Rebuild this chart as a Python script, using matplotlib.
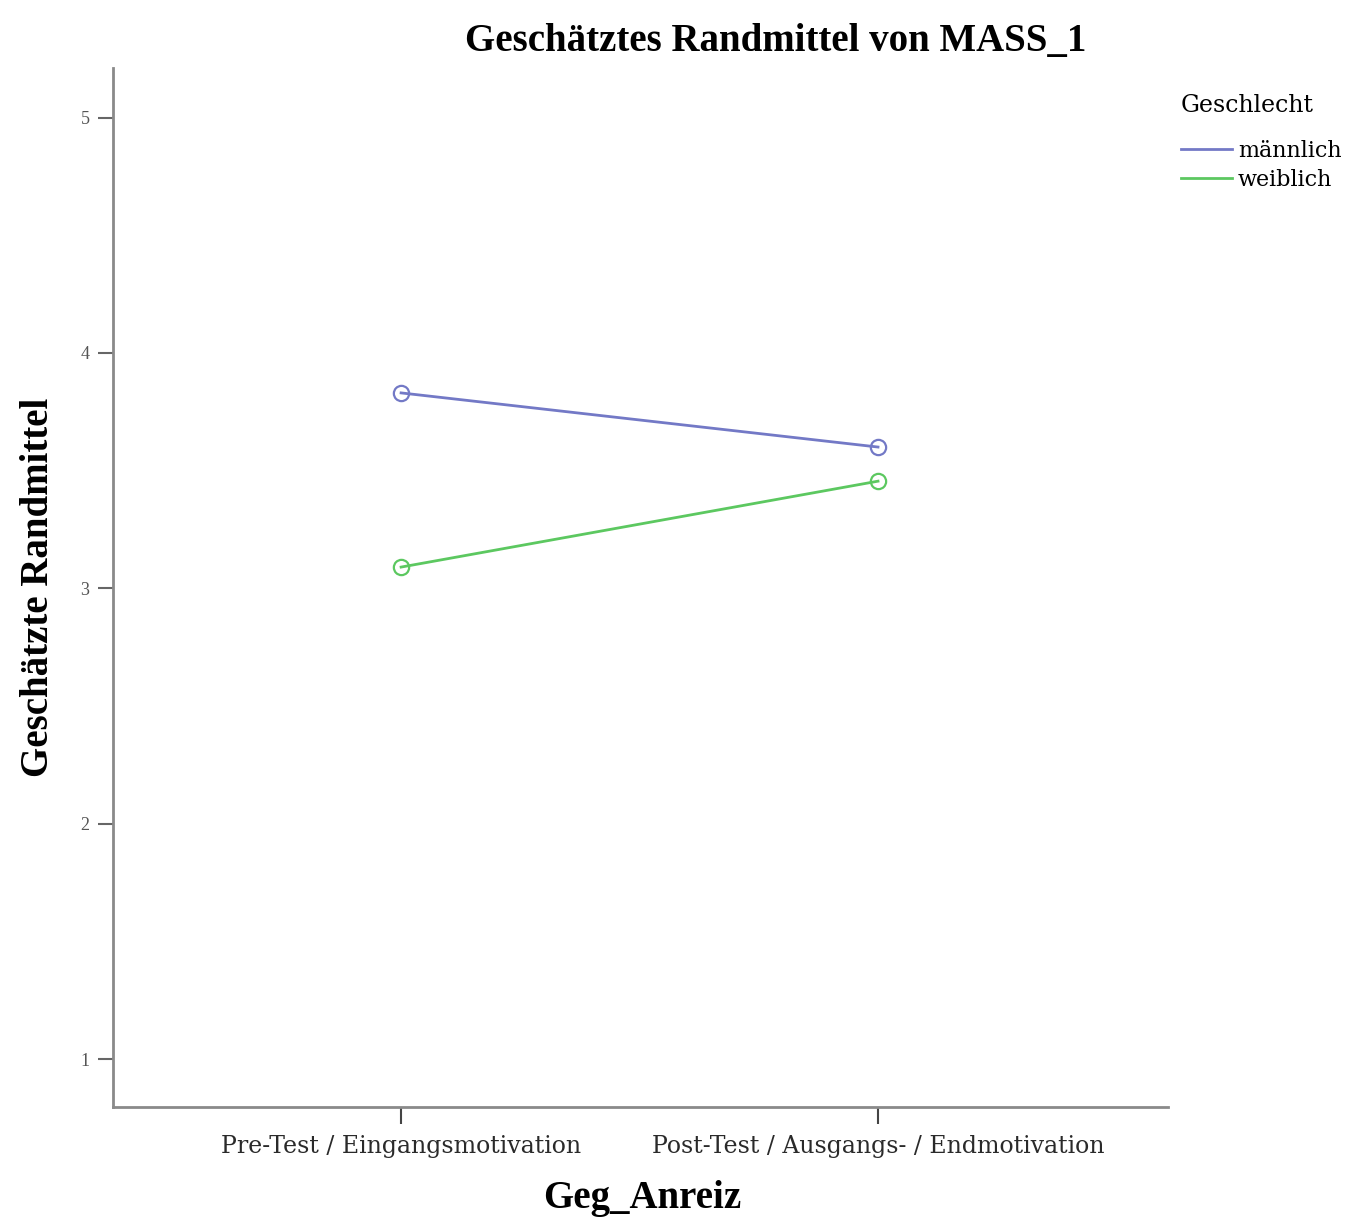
import numpy as np
import matplotlib.pyplot as plt

# estimated marginal means
zeitpunkte = ['Pre-Test / Eingangsmotivation', 'Post-Test / Ausgangs- / Endmotivation']
geschlecht = ['männlich', 'weiblich']
maennlich = [3.83, 3.60]
weiblich = [3.09, 3.455]
farben = ['#7379c6', '#5cc860']

plt.rcParams['font.family'] = ['Liberation Serif', 'DejaVu Serif']

fig = plt.figure(figsize=(13.49, 12.18), dpi=100)
ax = fig.add_axes([0.0838, 0.0911, 0.782, 0.853])

x = np.arange(len(zeitpunkte))
for werte, name, farbe in zip([maennlich, weiblich], geschlecht, farben):
    ax.plot(x, werte, color=farbe, lw=2, marker='o', markersize=11,
            markerfacecolor='none', markeredgewidth=1.6, label=name)

ax.set_xlim(-0.604, 1.608)
ax.set_ylim(0.796, 5.21)
ax.set_yticks([1, 2, 3, 4, 5])
ax.set_xticks(x)
ax.set_xticklabels(zeitpunkte, fontsize=17, color='#2a2a2a', family='DejaVu Serif')
ax.tick_params(axis='y', labelsize=13, labelcolor='#555555', length=11, width=1.5,
               color='#666666', pad=6)
ax.tick_params(axis='x', length=12, width=1.5, color='#444444', pad=8)

for s in ['top', 'right']:
    ax.spines[s].set_visible(False)
for s in ['left', 'bottom']:
    ax.spines[s].set_color('#8a8a8a')
    ax.spines[s].set_linewidth(2)

ax.set_ylabel('Geschätzte Randmittel', fontsize=28, fontweight='bold', va='center')
ax.yaxis.set_label_coords(-0.071, 0.5)
ax.set_xlabel('Geg_Anreiz', fontsize=28, fontweight='bold', va='center')
ax.xaxis.set_label_coords(0.502, -0.088)
fig.text(0.575, 0.966, 'Geschätztes Randmittel von MASS_1', fontsize=28,
         fontweight='bold', ha='center', va='center')

leg = ax.legend(title='Geschlecht', loc='upper left', bbox_to_anchor=(1.004, 0.984),
                frameon=False, prop={'family': 'DejaVu Serif', 'size': 16},
                handlelength=2.3, handletextpad=0.25, labelspacing=0.3,
                borderaxespad=0)
leg.get_title().set_fontsize(17)
leg.get_title().set_family('DejaVu Serif')
leg._legend_box.align = 'left'
leg._legend_box.sep = 17
for h in leg.legend_handles:
    h.set_marker('')

fig.savefig('out.png', dpi=100, facecolor='white')
